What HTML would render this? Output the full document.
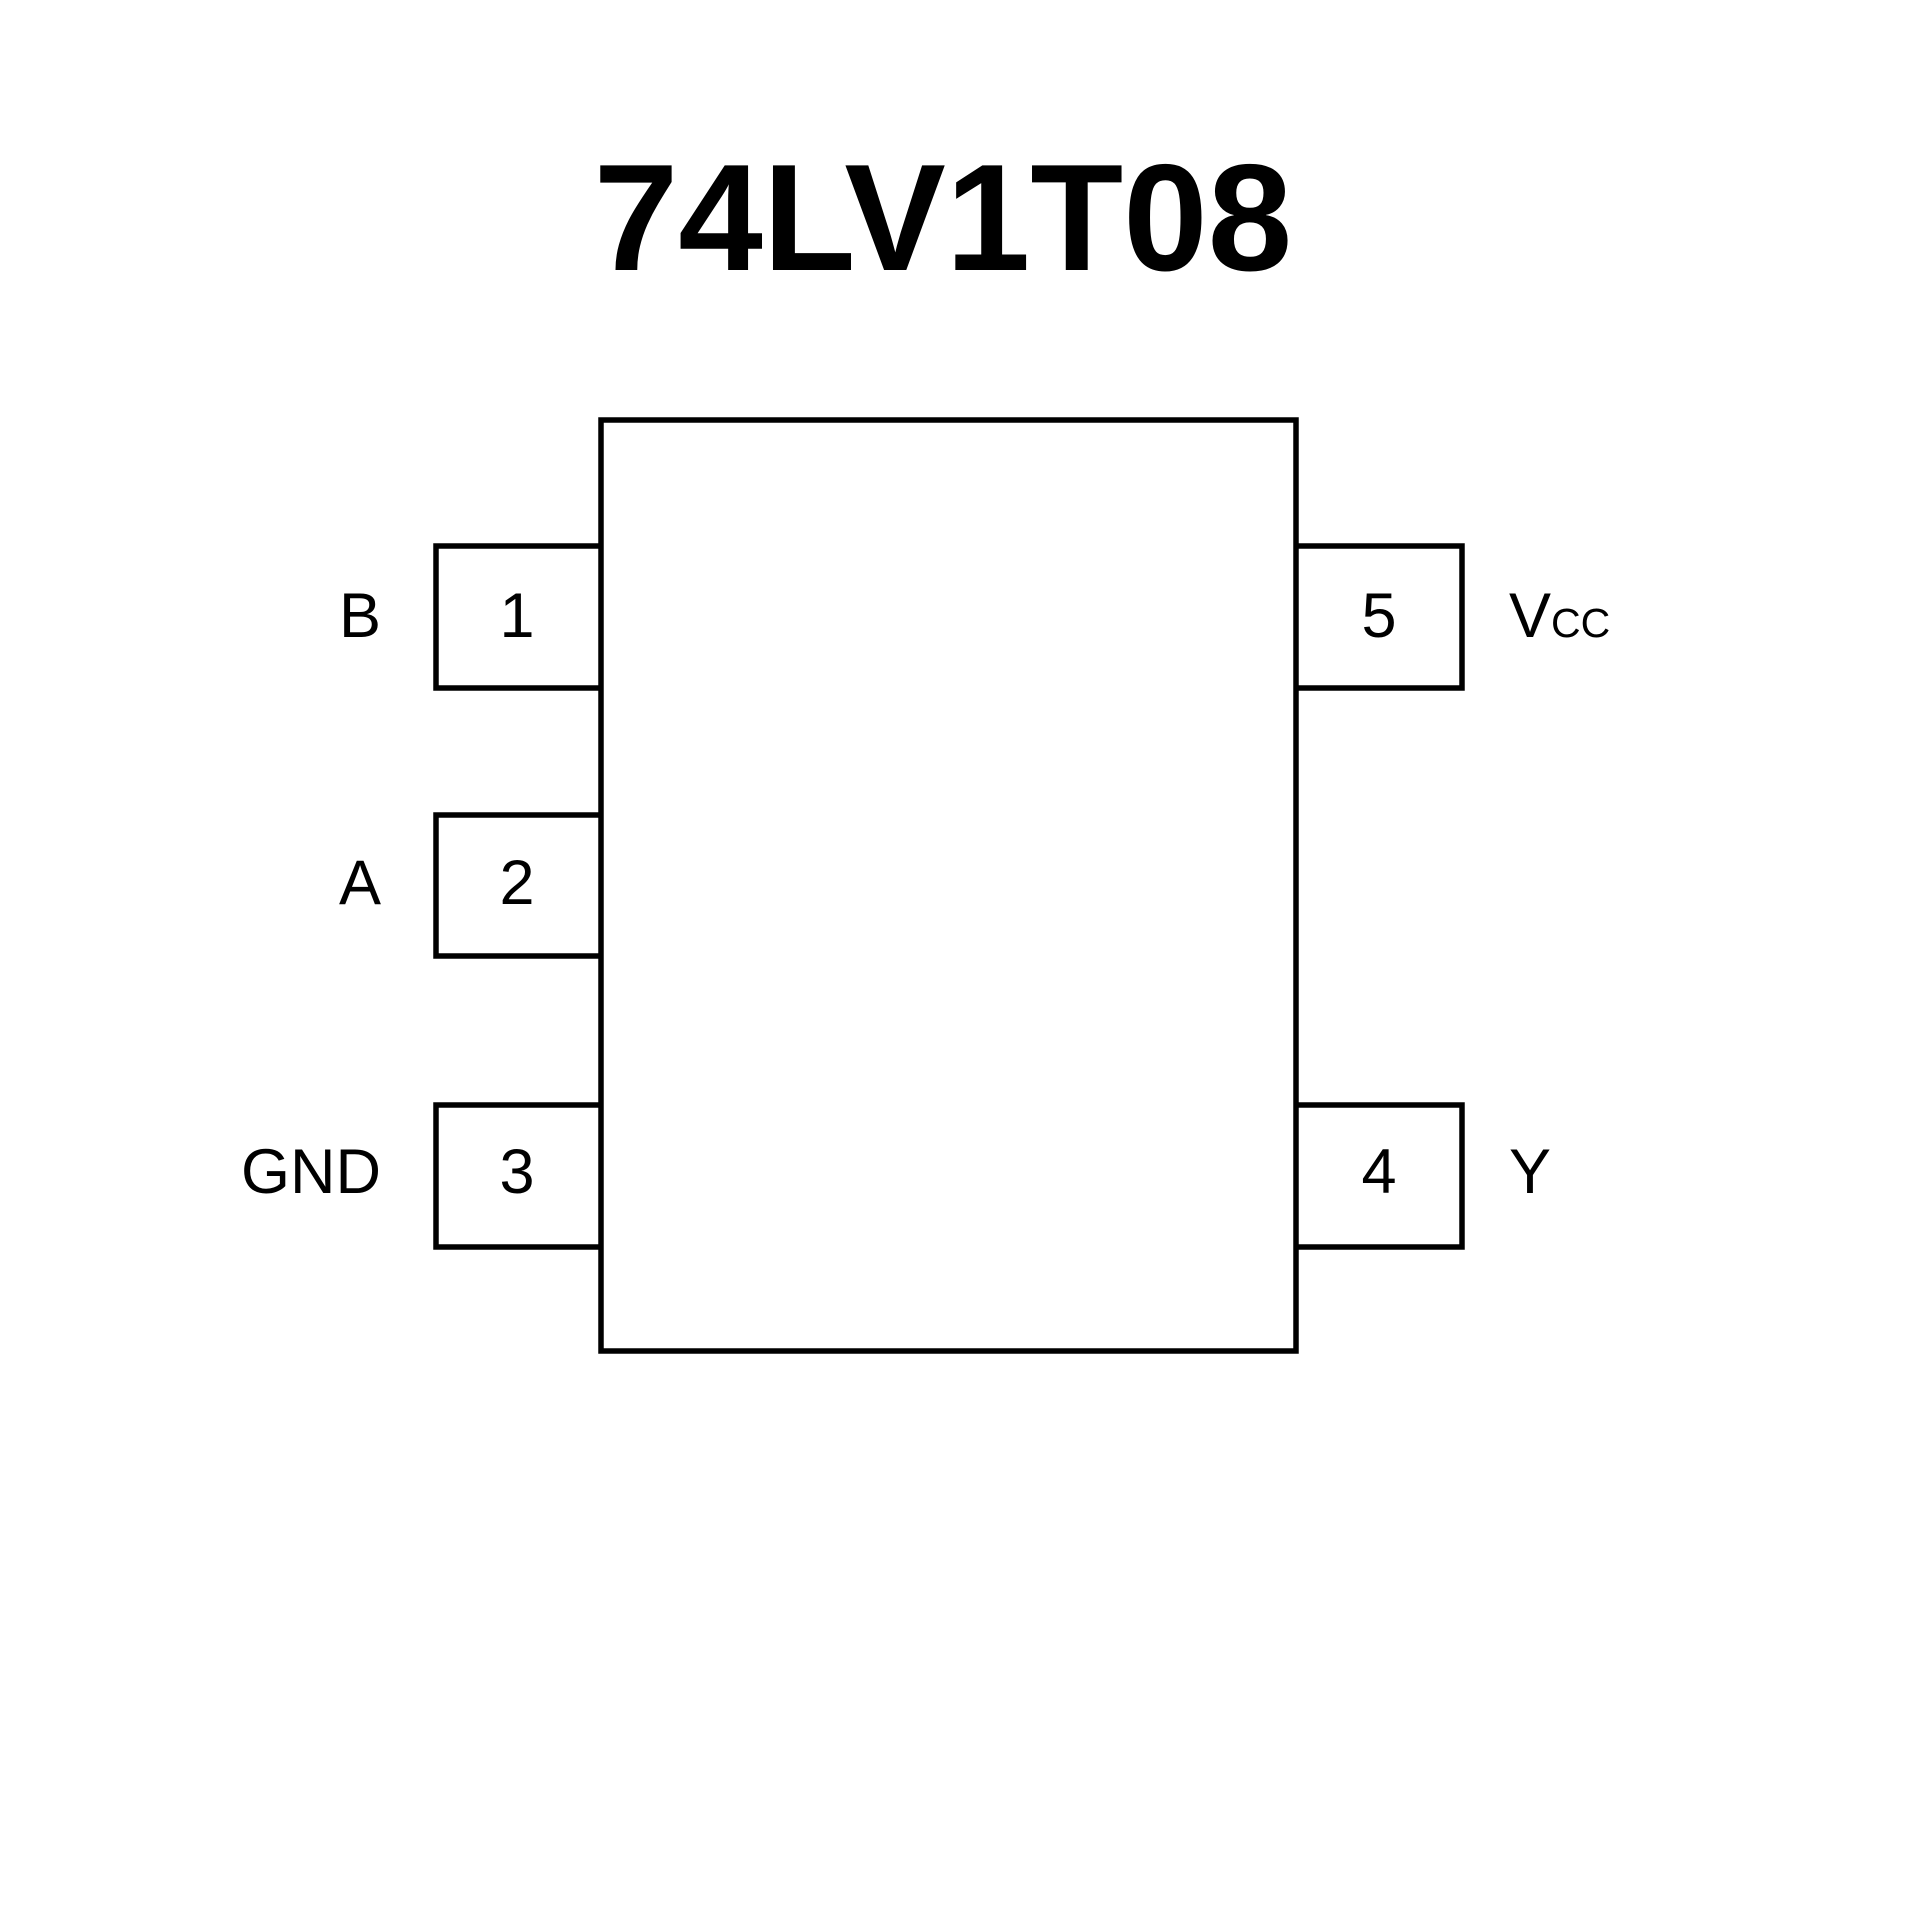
<!DOCTYPE html>
<html><head><meta charset="utf-8"><style>html,body{margin:0;padding:0;background:#fff}svg{display:block}</style></head>
<body>
<svg width="1920" height="1920" viewBox="0 0 1920 1920" xmlns="http://www.w3.org/2000/svg" font-family="Liberation Sans, sans-serif">
<rect width="1920" height="1920" fill="#fff"/>
<text x="943" y="270" font-size="152" font-weight="bold" text-anchor="middle">74LV1T08</text>
<g fill="none" stroke="#000" stroke-width="5.5">
<rect x="601" y="420" width="695" height="931"/>
<polyline points="600,546 436,546 436,688 600,688"/>
<polyline points="600,815 436,815 436,956 600,956"/>
<polyline points="600,1105 436,1105 436,1247 600,1247"/>
<polyline points="1297,546 1462,546 1462,688 1297,688"/>
<polyline points="1297,1105 1462,1105 1462,1247 1297,1247"/>
</g>
<g font-size="63" text-anchor="middle">
<text x="517" y="637">1</text>
<text x="517" y="904">2</text>
<text x="517" y="1193">3</text>
<text x="1379" y="637">5</text>
<text x="1379" y="1193">4</text>
</g>
<g font-size="63" text-anchor="end">
<text x="381" y="637">B</text>
<text x="381" y="904">A</text>
<text x="381" y="1193">GND</text>
</g>
<text x="1509" y="637" font-size="63">V<tspan font-size="41">CC</tspan></text>
<text x="1509" y="1193" font-size="63">Y</text>
</svg>
</body></html>
